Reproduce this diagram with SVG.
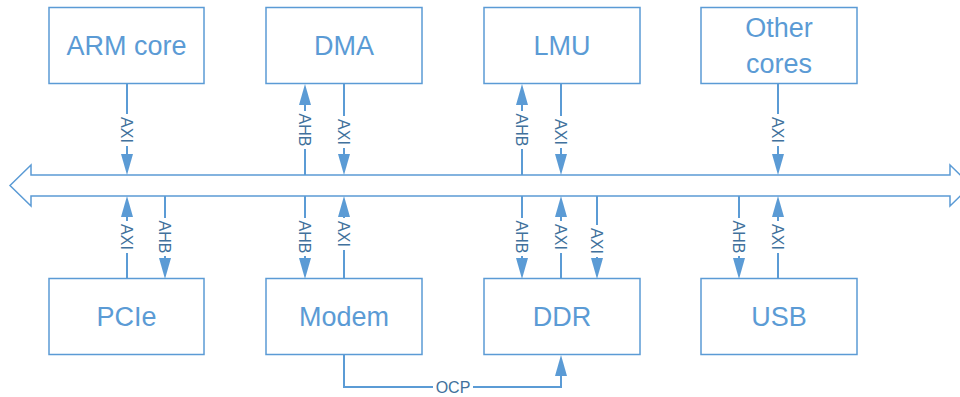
<svg xmlns="http://www.w3.org/2000/svg" width="960" height="397" viewBox="0 0 960 397">
<defs>
<style>
.box{fill:#fff;stroke:#5B9BD5;stroke-width:1.5}
.bt{font-family:"Liberation Sans",Arial,sans-serif;font-size:27px;fill:#5B9BD5;text-anchor:middle}
.ln{stroke:#5B9BD5;stroke-width:2;fill:none}
.lbl{font-family:"Liberation Sans",Arial,sans-serif;font-size:16px;fill:#41719C;text-anchor:middle}
.bg{fill:#fff}
</style>
<marker id="ah" markerUnits="userSpaceOnUse" markerWidth="22" markerHeight="13" refX="0" refY="6" orient="auto" viewBox="0 0 22 12">
<path d="M0,0 L21,6 L0,12 z" fill="#5B9BD5"/>
</marker>
</defs>
<rect width="960" height="397" fill="#fff"/>
<g id="bus">
<polygon points="10,185.5 31,165 31,175 950,175 950,165 971,185.5 950,206 950,196 31,196 31,206" fill="#fff" stroke="#5B9BD5" stroke-width="1.5"/>
</g>
<g id="connectors">
<line class="ln" x1="127" y1="84" x2="127" y2="154" marker-end="url(#ah)"/>
<line class="ln" x1="305" y1="175" x2="305" y2="105" marker-end="url(#ah)"/>
<line class="ln" x1="344" y1="84" x2="344" y2="154" marker-end="url(#ah)"/>
<line class="ln" x1="522" y1="175" x2="522" y2="105" marker-end="url(#ah)"/>
<line class="ln" x1="561" y1="84" x2="561" y2="154" marker-end="url(#ah)"/>
<line class="ln" x1="778" y1="84" x2="778" y2="154" marker-end="url(#ah)"/>
<line class="ln" x1="127" y1="279" x2="127" y2="217" marker-end="url(#ah)"/>
<line class="ln" x1="165" y1="196" x2="165" y2="258" marker-end="url(#ah)"/>
<line class="ln" x1="305" y1="196" x2="305" y2="258" marker-end="url(#ah)"/>
<line class="ln" x1="344" y1="279" x2="344" y2="217" marker-end="url(#ah)"/>
<line class="ln" x1="522" y1="196" x2="522" y2="258" marker-end="url(#ah)"/>
<line class="ln" x1="561" y1="279" x2="561" y2="217" marker-end="url(#ah)"/>
<line class="ln" x1="597" y1="196" x2="597" y2="258" marker-end="url(#ah)"/>
<line class="ln" x1="739" y1="196" x2="739" y2="258" marker-end="url(#ah)"/>
<line class="ln" x1="778" y1="279" x2="778" y2="217" marker-end="url(#ah)"/>
<path class="ln" d="M344,355 V387 H561 V376" marker-end="url(#ah)"/>
<g>
<rect class="bg" x="120" y="114" width="14" height="32"/>
<text class="lbl" transform="translate(127,130) rotate(90)" dy="6">AXI</text>
<rect class="bg" x="298" y="111" width="14" height="38"/>
<text class="lbl" transform="translate(305,130) rotate(90)" dy="6">AHB</text>
<rect class="bg" x="337" y="116" width="14" height="32"/>
<text class="lbl" transform="translate(344,132) rotate(90)" dy="6">AXI</text>
<rect class="bg" x="515" y="111" width="14" height="38"/>
<text class="lbl" transform="translate(522,130) rotate(90)" dy="6">AHB</text>
<rect class="bg" x="554" y="116" width="14" height="32"/>
<text class="lbl" transform="translate(561,132) rotate(90)" dy="6">AXI</text>
<rect class="bg" x="771" y="114" width="14" height="32"/>
<text class="lbl" transform="translate(778,130) rotate(90)" dy="6">AXI</text>
<rect class="bg" x="120" y="221" width="14" height="32"/>
<text class="lbl" transform="translate(127,237) rotate(90)" dy="6">AXI</text>
<rect class="bg" x="158" y="218" width="14" height="38"/>
<text class="lbl" transform="translate(165,237) rotate(90)" dy="6">AHB</text>
<rect class="bg" x="298" y="218" width="14" height="38"/>
<text class="lbl" transform="translate(305,237) rotate(90)" dy="6">AHB</text>
<rect class="bg" x="337" y="218" width="14" height="32"/>
<text class="lbl" transform="translate(344,234) rotate(90)" dy="6">AXI</text>
<rect class="bg" x="515" y="218" width="14" height="38"/>
<text class="lbl" transform="translate(522,237) rotate(90)" dy="6">AHB</text>
<rect class="bg" x="554" y="221" width="14" height="32"/>
<text class="lbl" transform="translate(561,237) rotate(90)" dy="6">AXI</text>
<rect class="bg" x="590" y="225" width="14" height="32"/>
<text class="lbl" transform="translate(597,241) rotate(90)" dy="6">AXI</text>
<rect class="bg" x="732" y="218" width="14" height="38"/>
<text class="lbl" transform="translate(739,237) rotate(90)" dy="6">AHB</text>
<rect class="bg" x="771" y="221" width="14" height="32"/>
<text class="lbl" transform="translate(778,237) rotate(90)" dy="6">AXI</text>
<rect class="bg" x="433" y="380" width="40" height="14"/>
<text class="lbl" x="453" y="393">OCP</text>
</g>
</g>
<g id="arm"><rect class="box" x="49" y="7.5" width="155" height="76"/><text class="bt" x="126.5" y="55">ARM core</text></g>
<g id="dma"><rect class="box" x="266" y="7.5" width="156" height="76"/><text class="bt" x="344" y="55">DMA</text></g>
<g id="lmu"><rect class="box" x="484" y="7.5" width="156" height="76"/><text class="bt" x="562" y="55">LMU</text></g>
<g id="other"><rect class="box" x="701" y="7.5" width="156" height="76"/><text class="bt" x="779" y="37">Other</text><text class="bt" x="779" y="73">cores</text></g>
<g id="pcie"><rect class="box" x="49" y="278.5" width="155" height="76"/><text class="bt" x="126.5" y="326">PCIe</text></g>
<g id="modem"><rect class="box" x="266" y="278.5" width="156" height="76"/><text class="bt" x="344" y="326">Modem</text></g>
<g id="ddr"><rect class="box" x="484" y="278.5" width="156" height="76"/><text class="bt" x="562" y="326">DDR</text></g>
<g id="usb"><rect class="box" x="701" y="278.5" width="156" height="76"/><text class="bt" x="779" y="326">USB</text></g>
</svg>
